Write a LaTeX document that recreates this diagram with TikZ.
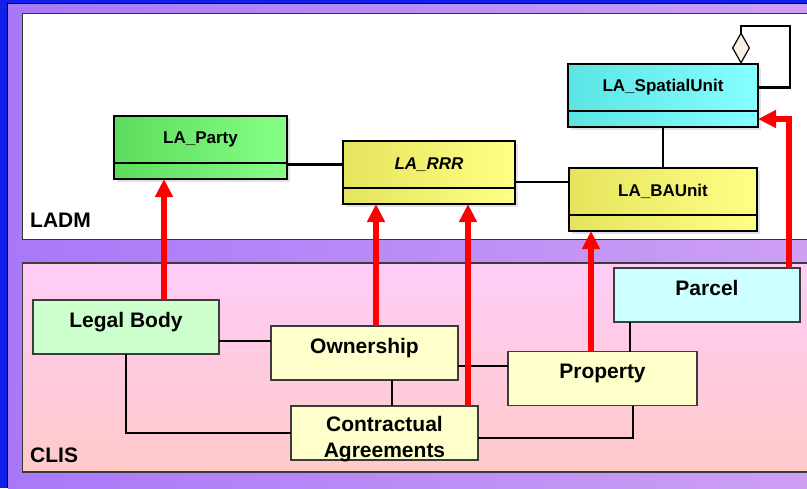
\documentclass[tikz,border=0pt]{standalone}
\usepackage{fontspec}
\setmainfont{Liberation Sans}
\usetikzlibrary{arrows.meta,positioning,shadows}

\definecolor{bgblue}{HTML}{1020E8}
\definecolor{bgpurpleL}{HTML}{A878F8}
\definecolor{bgpurpleR}{HTML}{CDA0F4}
\definecolor{clisA}{HTML}{FFCCF8}
\definecolor{clisB}{HTML}{FFCAC8}
\definecolor{partyL}{HTML}{5CDC5C}
\definecolor{partyR}{HTML}{86FF86}
\definecolor{rrrL}{HTML}{E4E45C}
\definecolor{rrrR}{HTML}{FFFF86}
\definecolor{suL}{HTML}{5CE4E4}
\definecolor{suR}{HTML}{86FFFF}
\definecolor{bodyfill}{HTML}{CCFFCC}
\definecolor{rightfill}{HTML}{FFFFCC}
\definecolor{parcelfill}{HTML}{CCFFFF}
\definecolor{diamondfill}{HTML}{F8F0E2}
\definecolor{edgegray}{HTML}{3C3C3C}

\tikzset{
  uml/.style={draw=black, line width=2pt, outer sep=0pt, inner sep=0pt,
    minimum height=47pt, font=\fontsize{17}{20}\selectfont\bfseries,
    drop shadow={shadow xshift=3pt, shadow yshift=-3pt, fill=black!22}},
  umlpart/.style={uml, minimum height=16pt, below=0pt of #1},
  clisbox/.style={draw=edgegray, line width=1.4pt, outer sep=0pt, inner sep=0pt,
    font=\fontsize{21}{26}\selectfont\bfseries},
  clis/.style={clisbox, text height=27pt, text depth=27pt},
  panel label/.style={anchor=west, inner sep=0pt, font=\fontsize{21}{25}\selectfont\bfseries},
  link/.style={line width=2.1pt},
  redarrow/.style={draw=red, line width=6pt, -{Triangle[width=17pt, length=18pt]}}
}

\begin{document}
\begin{tikzpicture}[x=1pt, y=-1pt]
  \useasboundingbox (0, 0) rectangle (807, 488);
  \fill [bgblue] (0, 0) rectangle (807, 488);
  \shade [left color=bgpurpleL, right color=bgpurpleR] (8, 4) rectangle (807, 488);
  \draw [line width=1.2pt] (7.5, 488) -- (7.5, 3.5) -- (807, 3.5);
  \draw [fill=white, draw=black!80, line width=1pt] (22.5, 13) rectangle (812, 239);
  \shade [top color=clisA, bottom color=clisB, draw=edgegray, line width=1.4pt] (22.5, 263) rectangle (812, 472);

  \node [panel label] (LADM) at (30, 220) {LADM};
  \node [panel label] (CLIS) at (30, 455) {CLIS};

  \node [uml, minimum width=173pt, left color=partyL, right color=partyR] (PA) at (200.5, 139.5) {LA\_Party};
  \node [umlpart=PA, minimum width=173pt, left color=partyL, right color=partyR] (PAb) {};
  \node [uml, minimum width=172pt, left color=rrrL, right color=rrrR] (RRR) at (429, 164.5) {\itshape LA\_RRR};
  \node [umlpart=RRR, minimum width=172pt, left color=rrrL, right color=rrrR] (RRRb) {};
  \node [uml, minimum width=188pt, left color=rrrL, right color=rrrR] (BA) at (663, 191.5) {LA\_BAUnit};
  \node [umlpart=BA, minimum width=188pt, left color=rrrL, right color=rrrR] (BAb) {};
  \node [uml, minimum width=190pt, left color=suL, right color=suR] (SU) at (663, 87.5) {LA\_SpatialUnit};
  \node [umlpart=SU, minimum width=190pt, left color=suL, right color=suR] (SUb) {};

  \node [clis, minimum width=186pt, fill=bodyfill] (LB) at (126, 327) {Legal Body};
  \node [clis, minimum width=187pt, fill=rightfill] (OW) at (364.5, 353) {Ownership};
  \node [clisbox, minimum width=187pt, text height=38.5pt, text depth=15.5pt, fill=rightfill] (CA) at (384.5, 433)
    {\begin{tabular}{@{}c@{}}Contractual\\Agreements\end{tabular}};
  \node [clis, minimum width=189pt, fill=rightfill] (PR) at (602.5, 378.5) {Property};
  \node [clis, minimum width=186pt, fill=parcelfill] (PC) at (707, 295) {Parcel};

  \draw [link] (RRR.west) -- (RRR.west -| PAb.east);
  \coordinate (BAin) at ([yshift=9.5pt]BA.west);
  \draw [link] (BAin) -- (BAin -| RRR.east);
  \draw [link] (SUb.south) -- (BA.north);
  \draw [link, -{Diamond[length=32pt, width=18pt, fill=diamondfill, line width=1.2pt]}]
    (SU.east) -- ++(32, 0) |- ([xshift=-17pt, yshift=38pt]SU.north east) -- ([xshift=-17pt]SU.north east);

  \coordinate (LBo) at ([yshift=-14pt]LB.east);
  \draw [link] (LBo) -- (LBo -| OW.west);
  \coordinate (PRo) at ([yshift=12.5pt]PR.west);
  \draw [link] (PRo) -- (PRo -| OW.east);
  \coordinate (CAo) at ([xshift=7.5pt]CA.north);
  \draw [link] (CAo) -- (CAo |- OW.south);
  \draw [link] (LB.south) |- (CA.west);
  \draw [link] ([yshift=-5pt]CA.east) -| ([xshift=30.5pt]PR.south);
  \coordinate (PCo) at ([xshift=-77pt]PC.south);
  \draw [link] (PCo) -- (PCo |- PR.north);

  \coordinate (LBr) at ([xshift=38pt]LB.north);
  \draw [redarrow] (LBr) -- (LBr |- PAb.south);
  \coordinate (OWr) at ([xshift=11.5pt]OW.north);
  \draw [redarrow] (OWr) -- (OWr |- RRRb.south);
  \coordinate (CAr) at ([xshift=-10pt]CA.north east);
  \draw [redarrow] (CAr) -- (CAr |- RRRb.south);
  \coordinate (PRr) at ([xshift=-11.5pt]PR.north);
  \draw [redarrow] (PRr) -- (PRr |- BAb.south);
  \coordinate (PCr) at ([xshift=-11pt]PC.north east);
  \draw [redarrow] (PCr) |- (SUb.east);
\end{tikzpicture}
\end{document}
